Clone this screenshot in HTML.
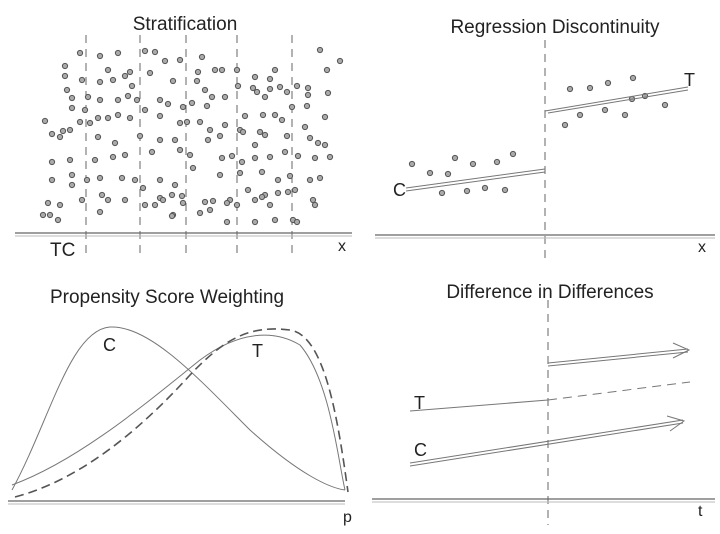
<!DOCTYPE html>
<html><head><meta charset="utf-8">
<style>
html,body{margin:0;padding:0;background:#fff;}
svg{display:block;}
text{font-family:"Liberation Sans","DejaVu Sans",sans-serif;fill:#222;}
</style></head>
<body>
<svg id="chart" width="720" height="534" viewBox="0 0 720 534">
  <!-- Stratification -->
  <g>
    <text x="185" y="30" font-size="19" text-anchor="middle">Stratification</text>
    <g id="strat-lines" stroke="#666" stroke-width="1" stroke-dasharray="8,6"></g>
    <g id="strat-dots"></g>
    <line x1="15" y1="233" x2="352" y2="233" stroke="#666" stroke-width="1.2"/>
    <line x1="15" y1="236" x2="352" y2="236" stroke="#bbb" stroke-width="1"/>
    <text x="50" y="256" font-size="19">TC</text>
    <text x="338" y="251" font-size="16">x</text>
  </g>
  <!-- Regression Discontinuity -->
  <g>
    <text x="555" y="33" font-size="19" text-anchor="middle">Regression Discontinuity</text>
    <line x1="545" y1="40" x2="545" y2="258" stroke="#666" stroke-dasharray="8,6"/>
    <g id="rd-dots"></g>
    <g stroke="#777" stroke-width="1" fill="none">
      <line x1="406" y1="188" x2="545" y2="169"/>
      <line x1="406" y1="191" x2="545" y2="172"/>
      <line x1="545" y1="111" x2="688" y2="87"/>
      <line x1="548" y1="113" x2="688" y2="90"/>
    </g>
    <line x1="375" y1="235" x2="715" y2="235" stroke="#666" stroke-width="1.2"/>
    <line x1="375" y1="238" x2="715" y2="238" stroke="#bbb"/>
    <text x="393" y="196" font-size="18">C</text>
    <text x="684" y="86" font-size="18">T</text>
    <text x="698" y="252" font-size="16">x</text>
  </g>
  <!-- Propensity -->
  <g>
    <text x="167" y="303" font-size="19" text-anchor="middle">Propensity Score Weighting</text>
    <path d="M12,490 C50,420 70,330 110,327 C150,325 200,380 250,430 C300,475 330,488 345,490" stroke="#777" fill="none"/>
    <path d="M12,485 C80,460 150,400 200,360 C240,330 275,330 300,345 C330,380 338,460 345,490" stroke="#777" fill="none"/>
    <path d="M15,497 C80,480 140,430 190,375 C225,338 250,325 290,330 C325,335 338,420 348,492" stroke="#555" stroke-width="1.6" stroke-dasharray="9,5" fill="none"/>
    <line x1="8" y1="501" x2="345" y2="501" stroke="#666" stroke-width="1.2"/>
    <line x1="8" y1="504" x2="345" y2="504" stroke="#bbb"/>
    <text x="103" y="351" font-size="18">C</text>
    <text x="252" y="357" font-size="18">T</text>
    <text x="343" y="522" font-size="16">p</text>
  </g>
  <!-- DiD -->
  <g>
    <text x="550" y="298" font-size="19" text-anchor="middle">Difference in Differences</text>
    <line x1="548" y1="300" x2="548" y2="525" stroke="#666" stroke-dasharray="8,6"/>
    <g stroke="#777" fill="none">
      <line x1="410" y1="411" x2="548" y2="400"/>
      <line x1="548" y1="400" x2="690" y2="382" stroke-dasharray="9,6"/>
      <line x1="548" y1="363" x2="688" y2="349"/>
      <line x1="548" y1="366" x2="688" y2="352"/>
      <polyline points="673,343 689,350 673,358"/>
      <line x1="410" y1="463" x2="683" y2="420"/>
      <line x1="410" y1="466" x2="683" y2="423"/>
      <polyline points="667,416 684,421 670,431"/>
    </g>
    <line x1="372" y1="499" x2="715" y2="499" stroke="#666" stroke-width="1.2"/>
    <line x1="372" y1="502" x2="715" y2="502" stroke="#bbb"/>
    <text x="414" y="409" font-size="18">T</text>
    <text x="414" y="456" font-size="18">C</text>
    <text x="698" y="516" font-size="16">t</text>
  </g>
</svg>
<script>
const stratCuts = [86, 140, 186, 237, 292];
const stratX = [80,100,118,145,155,165,180,202,320,340,65,108,130,150,198,215,222,237,255,270,275,327,65,82,100,113,125,132,173,197,205,238,253,270,280,297,308,67,72,88,100,118,128,137,160,183,192,212,225,257,265,287,308,328,72,85,145,168,207,245,263,275,292,307,325,45,52,63,70,80,90,98,108,118,130,160,180,187,200,225,210,240,260,282,305,60,98,115,140,160,175,208,220,243,255,265,287,310,318,325,52,70,95,113,125,152,180,190,222,232,242,255,270,285,298,315,330,52,72,87,100,122,135,160,175,193,220,240,262,278,290,310,320,48,60,72,82,102,125,143,160,172,182,205,213,230,248,265,278,295,313,50,100,108,145,155,163,173,183,200,210,227,237,255,262,270,288,293,315,43,58,172,227,255,275,297];
const stratY = [53,56,53,51,52,61,60,57,50,61,66,70,72,73,72,70,70,70,77,79,70,70,76,80,82,80,76,86,81,81,90,86,88,89,87,86,88,90,98,97,100,100,96,100,100,107,103,97,97,92,97,92,95,93,108,110,110,104,106,116,115,115,107,106,117,121,134,131,130,122,123,118,118,115,118,116,123,122,122,125,130,130,132,120,127,137,137,143,136,140,140,140,136,132,145,135,136,138,143,145,162,160,160,157,155,152,150,155,158,156,162,158,157,152,156,158,157,180,175,180,178,178,180,180,185,168,175,173,172,180,176,180,178,203,205,185,200,195,200,188,198,195,196,202,201,200,190,195,193,190,200,215,212,200,205,205,200,215,203,213,210,203,205,200,197,205,192,220,205,215,220,216,222,222,220,222];
const rdX = [412,430,448,455,473,497,513,442,467,485,505,570,590,608,633,565,580,605,625,632,645,665];
const rdY = [164,173,174,158,164,162,154,193,191,188,190,89,88,83,78,125,115,110,115,99,96,105];
const NS = 'http://www.w3.org/2000/svg';
const sl = document.getElementById('strat-lines');
stratCuts.forEach(function(x){
  const l = document.createElementNS(NS,'line');
  l.setAttribute('x1',x);l.setAttribute('x2',x);l.setAttribute('y1',35);l.setAttribute('y2',258);
  
  
  sl.appendChild(l);
});
function dot(g,x,y,name){
  const c = document.createElementNS(NS,'circle');
  c.setAttribute('cx',x);c.setAttribute('cy',y);c.setAttribute('r',2.6);
  c.setAttribute('fill','#aaa');c.setAttribute('stroke','#555');c.setAttribute('stroke-width','1');
  
  
  g.appendChild(c);
}
const sd = document.getElementById('strat-dots');
stratX.forEach(function(x,i){ dot(sd,x,stratY[i],'stratification-point'); });
const rd = document.getElementById('rd-dots');
rdX.forEach(function(x,i){ dot(rd,x,rdY[i],'rd-point'); });
</script>
</body></html>
